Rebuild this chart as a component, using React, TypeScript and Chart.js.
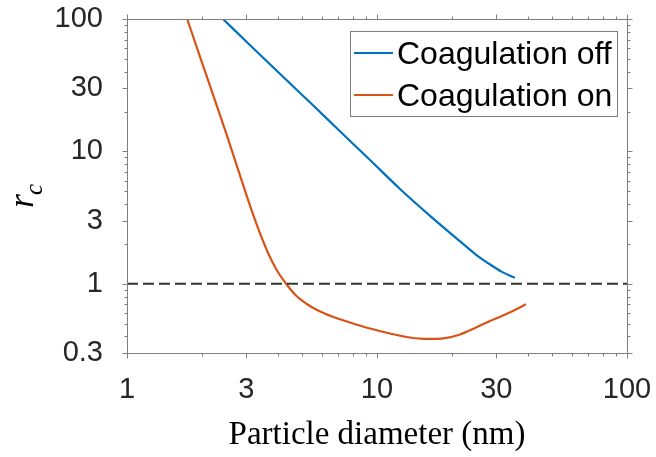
import React, { useEffect, useRef } from "react";
import { Chart, registerables } from "chart.js";

Chart.register(...registerables);

// ---- data ----
const diameterOff = [2.42, 3.1, 4.09, 5.4, 7.11, 9.38, 12.36, 16.3, 22.1, 25.1, 28.3, 31.6, 35.6];
const rcOff = [100, 63.7, 38.6, 23.4, 14.2, 8.6, 5.2, 3.26, 2.0, 1.64, 1.4, 1.23, 1.11];

const diameterOn = [1.74, 2, 2.5, 2.96, 3.15, 3.4, 3.67, 3.97, 4.33, 4.74, 5.2, 5.81, 6.61, 7.8, 9.38, 11.27, 13.55, 15.85, 18.7, 21.5, 24.7, 28.3, 31.9, 35.6, 39.4];
const rcOn = [100, 46.3, 13.5, 5.1, 3.6, 2.42, 1.7, 1.27, 1.0, 0.815, 0.71, 0.628, 0.566, 0.51, 0.459, 0.421, 0.393, 0.383, 0.389, 0.414, 0.464, 0.523, 0.576, 0.634, 0.7];

const thresholdX = [1, 100];
const thresholdY = [1, 1];

const xTickValues = [1, 3, 10, 30, 100];
const yTickValues = [0.3, 1, 3, 10, 30, 100];
const xMinorValues = [2, 4, 5, 6, 7, 8, 9, 20, 40, 50, 60, 70, 80, 90];
const yMinorValues = [0.4, 0.5, 0.6, 0.7, 0.8, 0.9, 2, 4, 5, 6, 7, 8, 9, 20, 40, 50, 60, 70, 80, 90];

const seriesNames = ["Coagulation off", "Coagulation on"];
const seriesColors = ["#0072BD", "#D95319"];

const xTitle = "Particle diameter (nm)";
const yTitleMain = "r";
const yTitleSub = "c";

const AXIS_COLOR = "#7f7f7f";
const TEXT_COLOR = "#262626";

const boxPlugin = {
  id: "boxPlugin",
  afterDraw(chart: any) {
    const { ctx, chartArea } = chart;
    const xs = chart.scales.x;
    const ys = chart.scales.y;
    const L = Math.round(chartArea.left) + 0.5;
    const R = Math.round(chartArea.right) + 0.5;
    const T = Math.round(chartArea.top) + 0.5;
    const B = Math.round(chartArea.bottom) + 0.5;
    ctx.save();
    ctx.strokeStyle = AXIS_COLOR;
    ctx.lineWidth = 1;
    ctx.beginPath();
    ctx.rect(L, T, R - L, B - T);
    ctx.stroke();
    const major = 5;
    const minor = 3;
    ctx.beginPath();
    const xt = (v: number, len: number) => {
      const px = Math.round(xs.getPixelForValue(v)) + 0.5;
      ctx.moveTo(px, B); ctx.lineTo(px, B + len);
      ctx.moveTo(px, T); ctx.lineTo(px, T - len);
    };
    const yt = (v: number, len: number) => {
      const py = Math.round(ys.getPixelForValue(v)) + 0.5;
      ctx.moveTo(L, py); ctx.lineTo(L - len, py);
      ctx.moveTo(R, py); ctx.lineTo(R + len, py);
    };
    xTickValues.forEach((v) => xt(v, major));
    xMinorValues.forEach((v) => xt(v, minor));
    yTickValues.forEach((v) => yt(v, major));
    yMinorValues.forEach((v) => yt(v, minor));
    ctx.stroke();

    // legend box
    const lx = 350.5, ly = 31.5, lw = 267, lh = 85;
    ctx.fillStyle = "#ffffff";
    ctx.fillRect(lx, ly, lw, lh);
    ctx.strokeStyle = AXIS_COLOR;
    ctx.strokeRect(lx, ly, lw, lh);
    ctx.font = "32px 'Liberation Sans', Arial, sans-serif";
    ctx.textAlign = "left";
    ctx.textBaseline = "middle";
    seriesNames.forEach((name, i) => {
      const cy = 53 + i * 42;
      ctx.strokeStyle = seriesColors[i];
      ctx.lineWidth = 2;
      ctx.beginPath();
      ctx.moveTo(354, cy);
      ctx.lineTo(393, cy);
      ctx.stroke();
      ctx.fillStyle = "#000000";
      ctx.fillText(name, 397, cy + 2);
    });

    // y-axis title r_c
    ctx.translate(33, 208);
    ctx.rotate(-Math.PI / 2);
    ctx.fillStyle = "#000000";
    ctx.textBaseline = "alphabetic";
    ctx.font = "italic 36px 'Liberation Serif', 'Times New Roman', serif";
    ctx.fillText(yTitleMain, 0, 0);
    ctx.font = "italic 25px 'Liberation Serif', 'Times New Roman', serif";
    ctx.fillText(yTitleSub, 13, 9);
    ctx.restore();
  },
};

export default function App() {
  const ref = useRef<HTMLCanvasElement | null>(null);
  useEffect(() => {
    if (!ref.current) return;
    const toPts = (xs: number[], ys: number[]) => xs.map((x, i) => ({ x, y: ys[i] }));
    const chart = new Chart(ref.current, {
      type: "line",
      data: {
        datasets: [
          {
            label: "threshold",
            data: toPts(thresholdX, thresholdY),
            borderColor: "#333333",
            borderWidth: 2,
            borderDash: [11, 5],
            pointRadius: 0,
            fill: false,
          },
          {
            label: seriesNames[0],
            data: toPts(diameterOff, rcOff),
            borderColor: seriesColors[0],
            borderWidth: 2.2,
            pointRadius: 0,
            cubicInterpolationMode: "monotone",
            fill: false,
          },
          {
            label: seriesNames[1],
            data: toPts(diameterOn, rcOn),
            borderColor: seriesColors[1],
            borderWidth: 2.2,
            pointRadius: 0,
            cubicInterpolationMode: "monotone",
            fill: false,
          },
        ],
      },
      options: {
        animation: false,
        responsive: false,
        maintainAspectRatio: false,
        layout: { padding: { left: 0, right: 29, top: 19, bottom: 0 } },
        plugins: { legend: { display: false }, tooltip: { enabled: false } },
        scales: {
          x: {
            type: "logarithmic",
            min: 1,
            max: 100,
            grid: { display: false },
            border: { display: false },
            afterBuildTicks: (s: any) => {
              s.ticks = xTickValues.map((v) => ({ value: v }));
            },
            afterFit: (s: any) => {
              s.height = 104;
              s.paddingLeft = 0;
              s.paddingRight = 0;
            },
            ticks: {
              autoSkip: false,
              maxRotation: 0,
              padding: 12,
              color: TEXT_COLOR,
              font: { family: "'Liberation Sans', Arial, sans-serif", size: 29 },
              callback: (v: any) => String(v),
            },
            title: {
              display: true,
              text: xTitle,
              color: "#000000",
              padding: { top: 0, bottom: 2 },
              font: { family: "'Liberation Serif', 'Times New Roman', serif", size: 33 },
            },
          },
          y: {
            type: "logarithmic",
            min: 0.3,
            max: 100,
            grid: { display: false },
            border: { display: false },
            afterBuildTicks: (s: any) => {
              s.ticks = yTickValues.map((v) => ({ value: v }));
            },
            afterFit: (s: any) => {
              s.width = 127;
              s.paddingTop = 0;
              s.paddingBottom = 0;
            },
            ticks: {
              autoSkip: false,
              padding: 16,
              color: TEXT_COLOR,
              font: { family: "'Liberation Sans', Arial, sans-serif", size: 29 },
              callback: (v: any) => String(v),
            },
          },
        },
      },
      plugins: [boxPlugin],
    });
    return () => chart.destroy();
  }, []);
  return (
    <div style={{ position: "absolute", left: 0, top: 0, width: 656, height: 457, background: "#fff" }}>
      <canvas ref={ref} width={656} height={457} style={{ width: 656, height: 457 }} />
    </div>
  );
}
